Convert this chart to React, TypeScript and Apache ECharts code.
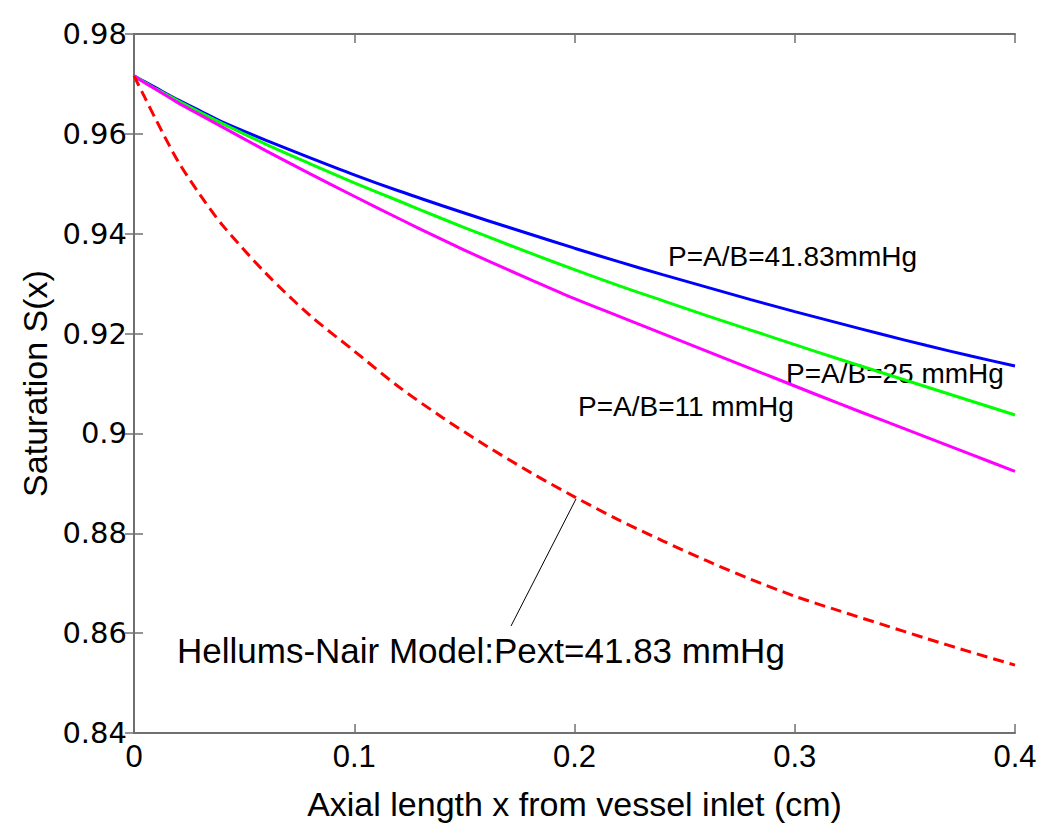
import React, { useEffect, useRef } from "react";
import * as echarts from "echarts";

// Axial length x (cm)
const xs = [0, 0.005, 0.01, 0.02, 0.03, 0.04, 0.06, 0.08, 0.1, 0.12, 0.14, 0.16, 0.18, 0.2, 0.22, 0.24, 0.26, 0.28, 0.3, 0.32, 0.34, 0.36, 0.38, 0.4];

// P=A/B=41.83 mmHg (blue)
const blue = [0.9716, 0.9704, 0.9692, 0.9668, 0.9646, 0.9624, 0.9587, 0.9552, 0.9518, 0.9486, 0.9456, 0.9427, 0.9399, 0.9371, 0.9344, 0.9318, 0.9293, 0.9268, 0.9244, 0.9221, 0.9198, 0.9176, 0.9155, 0.9135];
// P=A/B=25 mmHg (green)
const green = [0.9716, 0.9703, 0.969, 0.9666, 0.9643, 0.9621, 0.9579, 0.954, 0.9502, 0.9466, 0.943, 0.9395, 0.9361, 0.9328, 0.9296, 0.9266, 0.9236, 0.9207, 0.9178, 0.9149, 0.9121, 0.9093, 0.9065, 0.9037];
// P=A/B=11 mmHg (magenta)
const magenta = [0.9716, 0.9702, 0.9689, 0.9662, 0.9638, 0.9614, 0.9566, 0.952, 0.9475, 0.9431, 0.9388, 0.9347, 0.9308, 0.927, 0.9235, 0.92, 0.9165, 0.913, 0.9095, 0.906, 0.9026, 0.8992, 0.8958, 0.8924];
// Hellums-Nair model (red dashed)
const red = [0.9716, 0.9672, 0.9628, 0.9545, 0.9478, 0.9418, 0.932, 0.9236, 0.9165, 0.9094, 0.9032, 0.8975, 0.8922, 0.8873, 0.8827, 0.8785, 0.8745, 0.8708, 0.8674, 0.8645, 0.8617, 0.8589, 0.8562, 0.8536];

const xTicks = { min: 0, max: 0.4, interval: 0.1 };
const yTicks = { min: 0.84, max: 0.98, interval: 0.02 };

const FONT = "'Liberation Sans', Arial, Helvetica, sans-serif";
const AXIS_COLOR = "#707070";

const pairs = (ys: number[]) => xs.map((x, i) => [x, ys[i]]);

export default function App() {
  const ref = useRef<HTMLDivElement>(null);
  useEffect(() => {
    if (!ref.current) return;
    const chart = echarts.init(ref.current, undefined, { renderer: "svg" });
    const axisLine = { show: true, lineStyle: { color: AXIS_COLOR, width: 2 } };
    const axisTick = { show: true, inside: true, length: 9, lineStyle: { color: AXIS_COLOR, width: 1.5 } };
    const lineSeries = (name: string, data: number[], color: string, dashed = false) => ({
      name,
      type: "line",
      data: pairs(data),
      showSymbol: false,
      symbol: "none",
      smooth: 0.3,
      lineStyle: { color, width: 3, type: dashed ? [11, 6] : "solid" },
      z: dashed ? 3 : 2,
    });
    chart.setOption({
      animation: false,
      backgroundColor: "#ffffff",
      grid: { left: 134, top: 34, right: 35, bottom: 95, containLabel: false },
      xAxis: [
        {
          type: "value",
          position: "bottom",
          ...xTicks,
          name: "Axial length x from vessel inlet (cm)",
          nameLocation: "middle",
          nameGap: 54,
          nameTextStyle: { fontFamily: FONT, fontSize: 34, color: "#000" },
          axisLine,
          axisTick,
          splitLine: { show: false },
          axisLabel: { fontFamily: FONT, fontSize: 31, color: "#000", margin: 8 },
        },
        {
          type: "value",
          position: "top",
          ...xTicks,
          axisLine,
          axisTick,
          splitLine: { show: false },
          axisLabel: { show: false },
        },
      ],
      yAxis: [
        {
          type: "value",
          position: "left",
          ...yTicks,
          name: "Saturation S(x)",
          nameLocation: "middle",
          nameRotate: 90,
          nameGap: 80,
          nameTextStyle: { fontFamily: FONT, fontSize: 34, color: "#000" },
          axisLine,
          axisTick,
          splitLine: { show: false },
          axisLabel: { fontFamily: "'DejaVu Sans', sans-serif", fontSize: 29, color: "#000", margin: 7 },
        },
        {
          type: "value",
          position: "right",
          ...yTicks,
          axisLine,
          axisTick,
          splitLine: { show: false },
          axisLabel: { show: false },
        },
      ],
      series: [
        lineSeries("P=A/B=41.83mmHg", blue, "#0000ff"),
        lineSeries("P=A/B=25 mmHg", green, "#00ff00"),
        lineSeries("P=A/B=11 mmHg", magenta, "#ff00ff"),
        lineSeries("Hellums-Nair", red, "#ff0000", true),
      ],
      graphic: [
        {
          type: "text",
          left: 668,
          top: 242,
          style: { text: "P=A/B=41.83mmHg", font: `28px ${FONT}`, fill: "#000" },
        },
        {
          type: "text",
          left: 786,
          top: 359,
          style: { text: "P=A/B=25 mmHg", font: `28px ${FONT}`, fill: "#000" },
        },
        {
          type: "text",
          left: 578,
          top: 392,
          style: { text: "P=A/B=11 mmHg", font: `28px ${FONT}`, fill: "#000" },
        },
        {
          type: "text",
          left: 177,
          top: 633,
          style: { text: "Hellums-Nair Model:Pext=41.83 mmHg", font: `35px ${FONT}`, fill: "#000" },
        },
        {
          type: "line",
          shape: { x1: 511, y1: 626, x2: 576, y2: 499 },
          style: { stroke: "#000", lineWidth: 1 },
        },
      ],
    });
    return () => chart.dispose();
  }, []);
  return (
    <div
      ref={ref}
      style={{ position: "fixed", left: 0, top: 0, width: 1050, height: 828, background: "#fff" }}
    />
  );
}
